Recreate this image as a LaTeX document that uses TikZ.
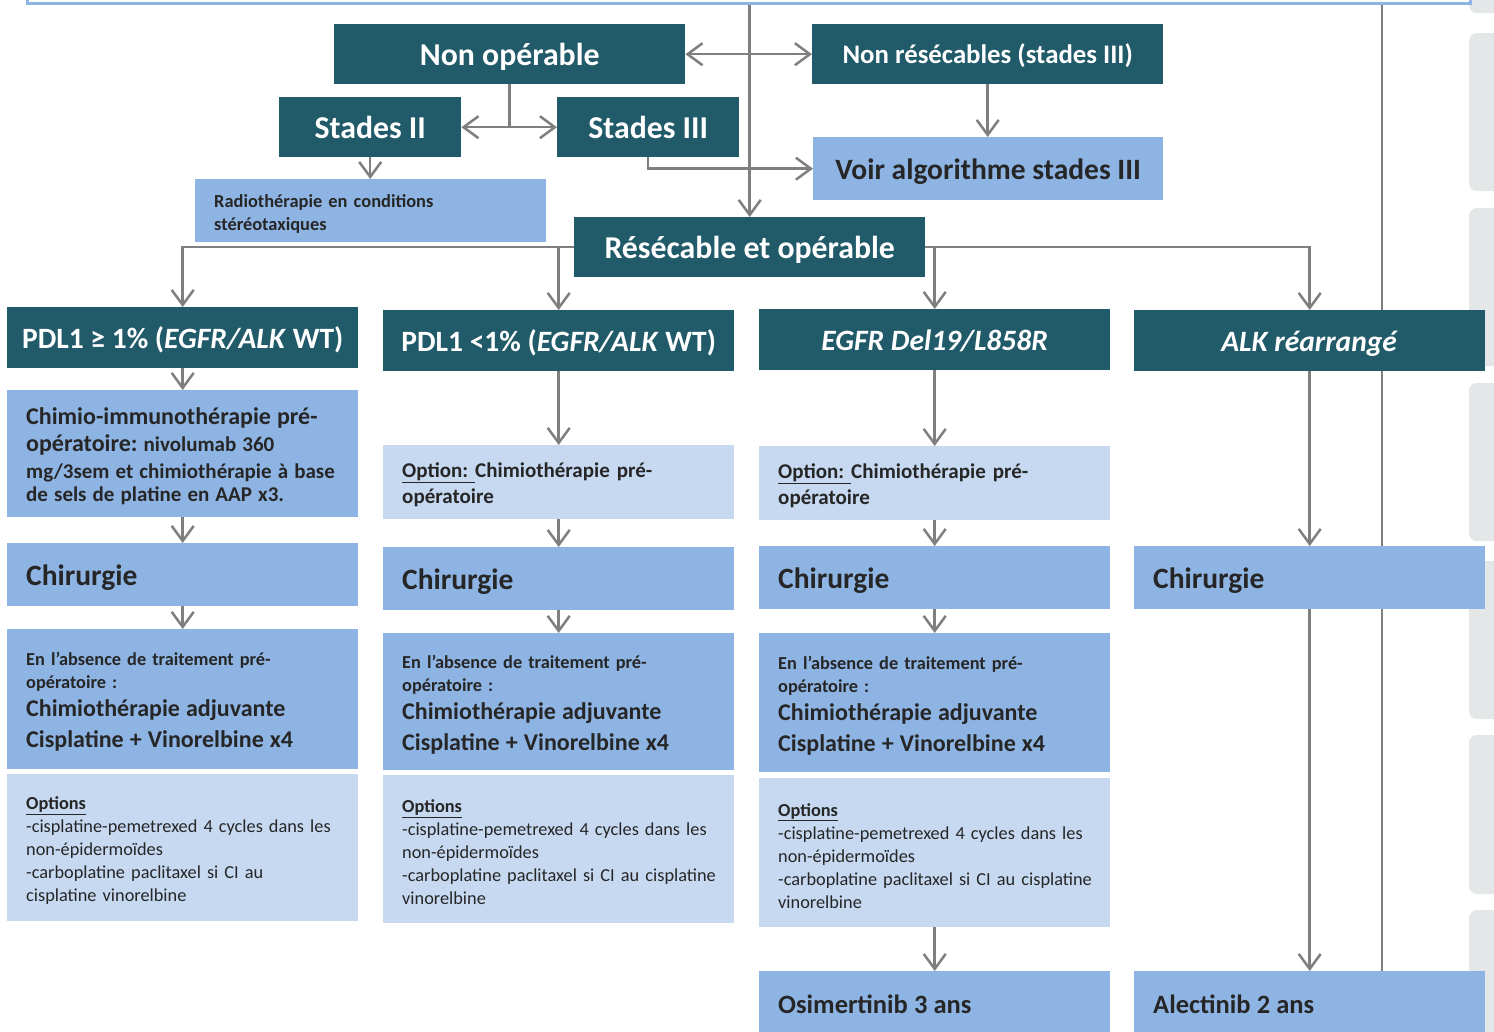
\documentclass[tikz,border=0pt]{standalone}
\usepackage{fontspec}
\setmainfont{Carlito}
\usetikzlibrary{arrows.meta}
\definecolor{headteal}{HTML}{215A69}
\definecolor{stepblue}{HTML}{8EB4E3}
\definecolor{optblue}{HTML}{C6D9F1}
\definecolor{inkgray}{HTML}{262626}
\definecolor{linkgray}{HTML}{7F7F7F}
\definecolor{tabgray}{HTML}{E4E7E7}
\newcommand{\fsz}[2]{\fontsize{#1}{#2}\selectfont}
\frenchspacing
\tikzset{x=1pt, y=1pt,
    every node/.style={
        anchor=north west,
        inner ysep=0pt},
    head/.style={
        fill=headteal,
        text=white,
        align=center,
        inner xsep=0pt,
        text height=22pt,
        text depth=0pt,
        font=\bfseries\fsz{31.8}{36}},
    tag/.style={
        head,
        minimum width=351,
        minimum height=61,
        text height=20.6pt,
        font=\bfseries\fsz{29.5}{34}},
    voirbox/.style={
        head,
        fill=stepblue,
        text=inkgray,
        text height=20.6pt,
        font=\bfseries\fsz{29.5}{34}},
    stepbox/.style={
        fill=stepblue,
        text=inkgray,
        align=left,
        inner xsep=6pt,
        text width=339pt,
        execute at begin node={\leftskip=13pt},
        execute at end node={\par\kern-6pt},
        font=\bfseries\fsz{18.3}{23}},
    optbox/.style={
        stepbox,
        fill=optblue,
        font=\fsz{18.3}{23}},
    link/.style={
        draw=linkgray,
        line width=2.5pt},
    arr/.style={
        link,
        -{Straight Barb[length=15pt,width=22pt]}},
    biarr/.style={
        link,
        {Straight Barb[length=15pt,width=22pt]}-{Straight Barb[length=15pt,width=22pt]}}}

\begin{document}
\begin{tikzpicture}
        \useasboundingbox (0,0) rectangle (1494,-1031);

        \foreach \ya/\yb in {-40/13, 33/191, 208/366, 383/541, 561/719, 735/894, 910/1080}
            \fill[tabgray, rounded corners=8pt] (1469,-\ya) rectangle (1530,-\yb);

        \coordinate (railtop) at (1382,-5);
        \coordinate (railfoot) at (1382,-971);
        \draw[link] (railtop) -- (railfoot);

        \node[draw=stepblue, line width=3pt, fill=white, anchor=south west,
              minimum width=1443, minimum height=40] (frame) at (26,-5) {};

        \node[head, minimum width=351, minimum height=60] (nonop) at (334,-24) {Non opérable};
        \node[head, minimum width=351, minimum height=60, text height=18.8pt, font=\bfseries\fsz{26.8}{31}] (nonres) at (812,-24) {Non résécables (stades III)};
        \node[head, minimum width=182, minimum height=60] (stII) at (279,-97) {Stades II};
        \node[head, minimum width=182, minimum height=60] (stIII) at (557,-97) {Stades III};
        \node[stepbox, minimum height=63, font=\bfseries\fsz{18.4}{23}] (radio) at (195,-179) {Radiothérapie en conditions\\stéréotaxiques};
        \node[voirbox, minimum width=350, minimum height=63] (voir) at (813,-137) {Voir algorithme stades III};
        \node[head, minimum width=351, minimum height=60] (resec) at (574,-217) {Résécable et opérable};

        \node[tag] (pdlpos) at (7,-307) {PDL1 ≥ 1\% (\textit{EGFR/ALK} WT)};
        \node[tag] (pdlneg) at (383,-310) {PDL1 <1\% (\textit{EGFR/ALK} WT)};
        \node[tag] (egfr) at (759,-309) {\textit{EGFR Del19/L858R}};
        \node[tag] (alk) at (1134,-310) {\textit{ALK réarrangé}};

        \node[stepbox, minimum height=127] (immuno) at (7,-390) {\fsz{24}{27}Chimio-immunothérapie pré-\\opératoire: \fsz{21}{27}nivolumab 360\\mg/3sem et chimiothérapie à base\\de sels de platine en AAP x3.};
        \node[stepbox, minimum height=63] (chirA) at (7,-543) {\fsz{29.5}{35}Chirurgie};
        \node[stepbox, minimum height=140] (adjA) at (7,-629) {En l’absence de traitement pré-\\opératoire :\par\vskip-3pt{\fsz{24}{31}Chimiothérapie adjuvante\\Cisplatine + Vinorelbine x4\par}};
        \node[optbox, minimum height=147] (optsA) at (7,-774) {\textbf{\underline{Options}}\\-cisplatine-pemetrexed 4 cycles dans les\\non-épidermoïdes\\-carboplatine paclitaxel si CI au\\cisplatine vinorelbine};

        \node[optbox, minimum height=74, font=\bfseries\fsz{21}{26}] (preB) at (383,-445) {\underline{Option:\ }Chimiothérapie pré-\\opératoire};
        \node[stepbox, minimum height=63] (chirB) at (383,-547) {\fsz{29.5}{35}Chirurgie};
        \node[stepbox, minimum height=137] (adjB) at (383,-633) {En l’absence de traitement pré-\\opératoire :\par\vskip-3pt{\fsz{24}{31}Chimiothérapie adjuvante\\Cisplatine + Vinorelbine x4\par}};
        \node[optbox, minimum height=148] (optsB) at (383,-775) {\textbf{\underline{Options}}\\-cisplatine-pemetrexed 4 cycles dans les\\non-épidermoïdes\\-carboplatine paclitaxel si CI au cisplatine\\vinorelbine};

        \node[optbox, minimum height=74, font=\bfseries\fsz{21}{26}] (preC) at (759,-446) {\underline{Option:\ }Chimiothérapie pré-\\opératoire};
        \node[stepbox, minimum height=63] (chirC) at (759,-546) {\fsz{29.5}{35}Chirurgie};
        \node[stepbox, minimum height=139] (adjC) at (759,-633) {En l’absence de traitement pré-\\opératoire :\par\vskip-3pt{\fsz{24}{31}Chimiothérapie adjuvante\\Cisplatine + Vinorelbine x4\par}};
        \node[optbox, minimum height=149] (optsC) at (759,-778) {\textbf{\underline{Options}}\\-cisplatine-pemetrexed 4 cycles dans les\\non-épidermoïdes\\-carboplatine paclitaxel si CI au cisplatine\\vinorelbine};
        \node[stepbox, minimum height=66] (osim) at (759,-971) {\fsz{26.5}{32}Osimertinib 3 ans};

        \node[stepbox, minimum height=63] (chirD) at (1134,-546) {\fsz{29.5}{35}Chirurgie};
        \node[stepbox, minimum height=66] (alec) at (1134,-971) {\fsz{26.5}{32}Alectinib 2 ans};

        \draw[arr] (frame.south -| resec.north) -- (resec.north);
        \draw[biarr] (nonop.east) -- (nonres.west);
        \coordinate (fork) at (nonop.south |- stII.east);
        \draw[link] (nonop.south) -- (fork);
        \draw[arr] (fork) -- (stII.east);
        \draw[arr] (fork) -- (stIII.west);
        \draw[arr] (stII.south) -- (stII.south |- radio.north);
        \draw[arr] (nonres.south) -- (nonres.south |- voir.north);
        \draw[arr] (stIII.south) |- (voir.west);
        \draw[arr] (resec.west) -| (pdlpos.north);
        \draw[arr] (resec.west -| pdlneg.north) -- (pdlneg.north);
        \draw[arr] (resec.east) -| (alk.north);
        \draw[arr] (resec.east -| egfr.north) -- (egfr.north);
        \foreach \a/\b in {pdlpos/immuno, immuno/chirA, chirA/adjA,
                           pdlneg/preB, preB/chirB, chirB/adjB,
                           egfr/preC, preC/chirC, chirC/adjC, optsC/osim,
                           alk/chirD, chirD/alec}
            \draw[arr] (\a.south) -- (\b.north);
    \end{tikzpicture}
\end{document}
